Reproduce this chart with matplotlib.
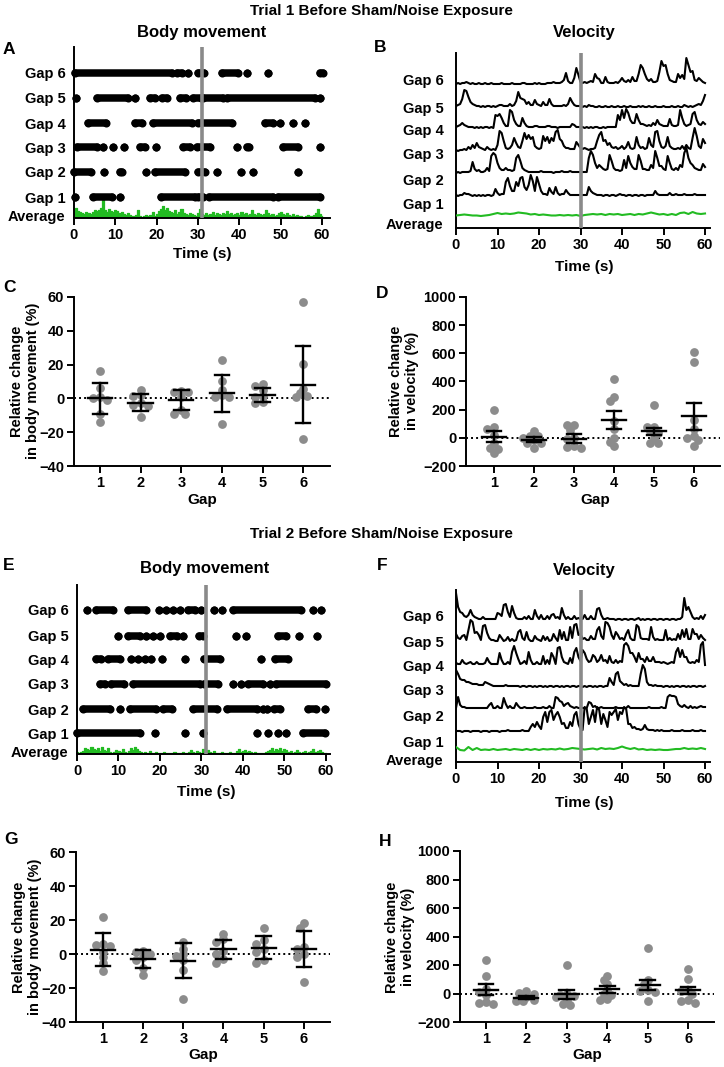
import numpy as np
import matplotlib
matplotlib.use('Agg')
import matplotlib.pyplot as plt

plt.rcParams['font.family'] = ['Liberation Sans', 'DejaVu Sans']
plt.rcParams['font.weight'] = 'bold'
plt.rcParams['axes.labelweight'] = 'bold'

# ------------------------------------------------------------------ DATA
ROW_LABELS = ['Average', 'Gap 1', 'Gap 2', 'Gap 3', 'Gap 4', 'Gap 5', 'Gap 6']
TIME_TICKS = [0, 10, 20, 30, 40, 50, 60]
GAPS = [1, 2, 3, 4, 5, 6]
STIM_RASTER = 31.0   # grey marker line, body-movement panels (s)
STIM_VEL = 30.0      # grey marker line, velocity panels (s)
SAMPLE_DT = 0.5      # sampling step of traces (s)
AVG_DT = 1.0         # sampling step of the green velocity average (s)

# Trial 1 body movement: movement episodes [start, end] or [time] (s), gap 1..6
A_gap1 = [[0.2], [4.5, 9.1], [11.1], [21.0, 29.3], [30.0, 31.3], [32.7, 48.2], [49.4, 59.5]]
A_gap2 = [[0.0, 4.0], [7.3], [11.1, 11.5], [17.4], [19.6, 26.8], [30.1, 31.7], [34.5], [40.3], [43.4], [54.1]]
A_gap3 = [[0.8, 5.5], [7.1], [9.5], [12.1], [16.0, 17.2], [19.8], [26.3, 28.0], [29.8, 32.9], [39.5],
          [41.8, 42.4], [50.5, 54.2], [59.5]]
A_gap4 = [[3.5, 7.7], [14.7, 16.4], [19.0, 28.5], [30.1, 38.1], [46.2, 48.2], [49.8], [53.0], [55.9]]
A_gap5 = [[0.5], [5.5, 13.1], [14.7], [18.4, 19.6], [21.2, 22.4], [25.6, 27.2], [28.7, 30.6], [31.3, 36.1],
          [36.9, 58.3], [59.5]]
A_gap6 = [[0.2, 23.6], [24.8, 26.0], [27.6], [29.9, 31.4], [35.7, 39.7], [41.8], [47.0], [59.5, 60.2]]
A_avg = [8, 10, 7, 6, 5, 4, 6, 5, 4, 6, 8, 7, 8, 10, 18, 8, 6, 9, 7, 6,
         8, 7, 5, 6, 4, 3, 5, 3, 2, 2, 3, 8, 2, 1, 2, 3, 2, 3, 6, 2,
         4, 7, 9, 12, 8, 10, 7, 6, 5, 8, 4, 6, 9, 5, 4, 3, 5, 4, 3, 2,
         5, 9, 4, 3, 5, 3, 4, 6, 3, 5, 4, 3, 5, 4, 7, 4, 5, 3, 4, 5,
         3, 6, 4, 5, 3, 4, 8, 4, 3, 5, 4, 3, 4, 8, 5, 3, 4, 2, 3, 5,
         6, 4, 3, 5, 3, 2, 4, 2, 3, 2, 2, 1, 2, 3, 2, 2, 3, 5, 9, 4, 2]

# Trial 1 velocity traces (0.5 s steps)
B_gap1 = [1, 0, 1, 1, 3, 2, 2, 1, 0, 1, 0, 1, 0, 1, 0, 1, 1, 0, 1, 7,
          3, 1, 2, 2, 14, 18, 10, 5, 5, 14, 10, 18, 19, 9, 6, 11, 21, 15, 5, 19,
          12, 5, 2, 2, 1, 8, 4, 2, 9, 3, 1, 2, 2, 6, 3, 1, 1, 1, 1, 1,
          1, 1, 1, 1, 9, 5, 3, 2, 1, 1, 1, 0, 1, 1, 0, 1, 1, 0, 1, 2,
          1, 1, 0, 1, 1, 0, 1, 1, 0, 1, 1, 0, 1, 1, 1, 1, 5, 2, 1, 1,
          1, 1, 1, 3, 1, 1, 2, 1, 1, 1, 2, 1, 1, 1, 1, 2, 1, 1, 1, 1, 1]
B_gap2 = [0, 1, 0, 1, 1, 1, 1, 2, 11, 4, 2, 3, 1, 1, 2, 5, 2, 17, 20, 18,
          10, 5, 3, 3, 5, 3, 3, 2, 3, 15, 18, 12, 5, 3, 2, 1, 1, 1, 1, 1,
          1, 2, 1, 1, 1, 1, 1, 0, 1, 1, 1, 2, 1, 1, 1, 2, 1, 1, 1, 1,
          1, 1, 1, 1, 15, 22, 18, 10, 5, 8, 6, 4, 3, 4, 18, 12, 5, 3, 3, 2,
          3, 13, 5, 17, 10, 6, 4, 4, 18, 12, 4, 4, 3, 3, 8, 5, 22, 15, 7, 7,
          4, 3, 17, 10, 4, 3, 5, 3, 8, 6, 20, 25, 15, 10, 8, 5, 4, 3, 3, 9, 6]
B_gap3 = [1, 0, 1, 1, 2, 1, 4, 2, 6, 3, 8, 4, 3, 2, 1, 4, 2, 1, 2, 1,
          6, 20, 18, 10, 3, 2, 3, 6, 13, 8, 4, 3, 10, 18, 12, 16, 12, 14, 5, 3,
          2, 3, 15, 10, 14, 8, 13, 10, 19, 21, 12, 10, 5, 3, 3, 2, 2, 2, 9, 6,
          3, 2, 3, 2, 1, 2, 2, 3, 10, 16, 19, 10, 11, 6, 8, 4, 3, 4, 2, 3,
          5, 2, 4, 9, 3, 2, 3, 14, 6, 3, 4, 2, 3, 13, 6, 4, 19, 20, 10, 4,
          3, 5, 14, 5, 3, 2, 2, 3, 2, 5, 2, 6, 3, 2, 13, 23, 15, 5, 3, 12, 8]
B_gap4 = [1, 2, 3, 5, 3, 2, 1, 1, 1, 0, 1, 0, 1, 0, 1, 1, 0, 1, 0, 13,
          12, 14, 10, 5, 2, 2, 18, 16, 8, 4, 2, 2, 10, 5, 2, 1, 1, 1, 2, 2,
          1, 1, 1, 1, 2, 2, 1, 1, 1, 0, 1, 1, 1, 1, 1, 1, 4, 3, 1, 1,
          1, 1, 0, 1, 0, 1, 0, 1, 1, 0, 0, 1, 0, 1, 1, 1, 1, 1, 13, 8,
          18, 10, 19, 15, 8, 5, 5, 14, 8, 4, 4, 3, 2, 3, 2, 5, 3, 8, 4, 3,
          2, 2, 2, 9, 3, 2, 2, 3, 18, 10, 4, 2, 3, 4, 14, 16, 8, 4, 3, 6, 4]
B_gap5 = [1, 2, 3, 8, 17, 16, 10, 5, 3, 2, 1, 1, 0, 1, 0, 1, 1, 0, 1, 0,
          1, 2, 2, 1, 1, 1, 3, 1, 2, 6, 15, 9, 8, 7, 3, 5, 2, 2, 7, 3,
          2, 1, 5, 2, 2, 8, 3, 1, 1, 1, 1, 1, 2, 1, 3, 9, 5, 2, 1, 1,
          1, 0, 1, 0, 2, 1, 1, 0, 0, 1, 0, 0, 1, 0, 0, 1, 0, 0, 1, 0,
          0, 1, 0, 0, 1, 0, 0, 0, 1, 0, 1, 0, 0, 1, 0, 0, 1, 0, 0, 0,
          1, 0, 0, 0, 1, 0, 0, 1, 0, 0, 2, 1, 0, 1, 0, 1, 2, 3, 2, 6, 12]
B_gap6 = [0, 1, 0, 1, 1, 2, 1, 0, 1, 0, 0, 1, 0, 0, 1, 0, 0, 1, 0, 0,
          0, 0, 1, 0, 0, 0, 0, 1, 0, 0, 0, 0, 1, 1, 0, 0, 0, 0, 1, 0,
          1, 0, 0, 0, 1, 1, 1, 2, 1, 1, 1, 2, 4, 11, 3, 1, 1, 6, 16, 9,
          2, 1, 2, 1, 2, 3, 2, 10, 6, 5, 1, 1, 7, 2, 1, 1, 1, 2, 1, 3,
          6, 3, 2, 4, 2, 7, 3, 3, 10, 19, 16, 10, 5, 3, 5, 2, 2, 3, 12, 23,
          18, 19, 10, 4, 3, 2, 2, 10, 6, 9, 5, 26, 19, 12, 13, 4, 3, 6, 4, 2, 1]
B_avg = [1.5, 2, 2.5, 2, 1.5, 1.5, 1, 1.5, 2, 3, 4, 3, 3.5, 3, 3.5, 4.5, 4, 3.5, 2.5, 3,
         2, 2.5, 2, 1.5, 1.5, 2, 1.5, 2, 1.5, 2, 1, 2, 2.5, 3, 2.5, 3, 2, 3, 2.5, 3,
         2, 2.5, 3, 2, 3, 2.5, 3.5, 4.5, 3.5, 2.5, 3, 2, 3, 2, 4, 4.5, 3, 5, 3.5, 3, 3.5]

# Trial 1 relative change per gap (individual animals, mean, error)
C_pts = [[16, 6, 1, 0, -1, -9, -14],
         [2, 1.5, 5, -4, -4.5, -3, -11],
         [4, 4, 4.5, 1, -7, -9.5, -9],
         [23, 10.5, 5, 2, 1, 1, -15],
         [7.5, 8.7, 5, 1.5, 1, -3, -2],
         [57, 20.5, 3.3, 5.8, 1.5, 1, -24]]
C_mean = [0, -2.5, -1, 3, 2, 8.2]
C_err = [9, 5, 6, 11, 4.4, 23]

D_pts = [[200, 60, 75, 20, -35, -80, -70, -105],
         [15, 50, 10, 0, -35, -70, -35, -15],
         [90, 90, 55, 0, -5, -55, -70, -65],
         [420, 290, 260, 120, 60, 0, -30, -60],
         [235, 80, 80, 45, 35, 0, -35, -40],
         [610, 535, 130, 60, 10, 0, -15, -60]]
D_mean = [8, -15, -5, 127, 45, 153]
D_err = [38, 18, 30, 63, 24, 94]

# Trial 2 body movement episodes
E_gap1 = [[0.0, 15.2], [18.8], [26.0], [30.4], [43.4], [46.0], [48.4], [50.5], [54.5, 59.8]]
E_gap2 = [[1.5, 8.0], [10.4], [12.8, 19.1], [20.7, 22.8], [28.0, 33.7], [36.1, 43.5], [44.9], [45.9],
          [47.6, 49.0], [55.7, 57.7], [59.7]]
E_gap3 = [[5.5, 6.7], [8.3, 11.3], [13.5, 29.6], [30.6, 34.0], [37.6], [39.6], [41.2, 44.9], [46.5],
          [48.1, 60.0]]
E_gap4 = [[4.7, 5.9], [7.5, 10.3], [13.1], [14.7], [16.3], [17.9], [20.5], [26.0], [30.6, 34.4], [44.3],
          [47.7, 50.9]]
E_gap5 = [[9.9], [12.3, 15.1], [16.7], [18.3], [19.9], [22.4, 24.0], [25.6], [29.4, 30.4], [38.4], [40.8],
          [48.5, 50.5], [53.5], [57.9]]
E_gap6 = [[2.3], [4.7, 8.7], [12.3, 16.7], [19.8], [21.5], [23.2], [24.8], [26.7, 28.4], [30.0], [33.0],
          [35.0], [37.6, 53.9], [56.9], [58.9]]
E_avg = [2, 1, 2, 3, 6, 5, 4, 7, 5, 4, 6, 3, 7, 4, 3, 6, 2, 1, 2, 4,
         3, 2, 5, 2, 1, 3, 6, 4, 7, 5, 3, 2, 1, 2, 1, 3, 1, 1, 2, 1,
         1, 1, 2, 1, 1, 1, 1, 2, 1, 1, 1, 2, 1, 1, 2, 4, 2, 1, 3, 2,
         1, 5, 2, 4, 2, 1, 3, 1, 1, 1, 2, 1, 1, 1, 2, 1, 1, 3, 5, 2,
         3, 4, 2, 3, 2, 1, 2, 1, 1, 1, 1, 2, 3, 4, 6, 3, 5, 4, 6, 3,
         5, 4, 2, 3, 1, 2, 4, 2, 1, 2, 3, 1, 2, 3, 5, 2, 3, 4, 2, 1, 1]

# Trial 2 velocity traces (0.5 s steps)
F_gap1 = [1, 1, 1, 0, 1, 1, 1, 0, 1, 1, 1, 1, 0, 1, 1, 1, 0, 1, 1, 1,
          1, 0, 1, 1, 1, 2, 1, 1, 1, 1, 1, 1, 2, 1, 1, 1, 5, 8, 5, 10,
          6, 3, 15, 20, 10, 20, 22, 12, 17, 20, 15, 8, 9, 4, 4, 10, 6, 17, 20, 8,
          3, 2, 25, 23, 8, 15, 22, 10, 25, 22, 8, 18, 12, 5, 20, 17, 20, 23, 12, 20,
          18, 25, 23, 8, 8, 4, 5, 3, 3, 2, 3, 7, 3, 2, 2, 2, 1, 2, 1, 2,
          1, 1, 1, 1, 2, 1, 1, 1, 1, 2, 1, 1, 1, 1, 2, 1, 1, 1, 2, 1, 1]
F_gap2 = [1, 12, 4, 2, 2, 1, 1, 1, 1, 1, 1, 1, 1, 1, 1, 1, 4, 6, 1, 1,
          3, 1, 1, 11, 5, 1, 3, 1, 1, 6, 3, 1, 1, 2, 1, 1, 1, 1, 2, 1,
          1, 1, 2, 1, 1, 3, 1, 1, 12, 11, 8, 7, 3, 5, 6, 3, 2, 1, 2, 1,
          1, 1, 1, 1, 7, 6, 2, 3, 1, 1, 2, 1, 1, 1, 1, 1, 1, 2, 1, 1,
          1, 1, 1, 3, 1, 1, 1, 1, 1, 1, 1, 1, 1, 2, 1, 1, 1, 1, 1, 2,
          1, 1, 12, 14, 13, 13, 12, 5, 3, 2, 4, 2, 1, 3, 1, 2, 1, 2, 3, 2, 2]
F_gap3 = [17, 13, 8, 7, 7, 5, 5, 4, 3, 3, 3, 2, 2, 2, 5, 4, 3, 2, 1, 1,
          1, 1, 1, 1, 2, 1, 1, 1, 1, 1, 1, 0, 1, 1, 0, 1, 1, 0, 1, 0,
          1, 1, 0, 1, 0, 1, 1, 0, 1, 1, 0, 1, 0, 1, 1, 0, 1, 1, 0, 1,
          1, 0, 1, 0, 1, 1, 0, 1, 0, 1, 1, 0, 1, 1, 9, 5, 2, 13, 15, 6,
          4, 2, 3, 1, 2, 1, 1, 1, 1, 13, 22, 18, 5, 2, 2, 1, 2, 1, 1, 1,
          0, 1, 1, 0, 1, 0, 1, 1, 0, 1, 1, 0, 1, 0, 1, 1, 0, 1, 1, 0, 1]
F_gap4 = [2, 1, 1, 5, 2, 1, 2, 3, 1, 1, 3, 1, 1, 1, 2, 7, 3, 1, 1, 1,
          1, 12, 5, 1, 1, 3, 1, 13, 19, 12, 6, 1, 2, 4, 1, 13, 5, 1, 1, 3,
          1, 1, 9, 1, 5, 1, 12, 8, 1, 17, 18, 8, 3, 2, 1, 7, 2, 13, 17, 8,
          4, 15, 12, 6, 3, 4, 10, 8, 3, 5, 10, 4, 5, 2, 9, 3, 2, 5, 2, 4,
          3, 20, 22, 19, 12, 12, 8, 3, 12, 6, 6, 3, 8, 4, 4, 8, 3, 3, 3, 2,
          3, 2, 1, 2, 3, 2, 13, 17, 8, 15, 8, 8, 3, 2, 3, 2, 5, 3, 20, 23, 0]
F_gap5 = [9, 5, 4, 7, 8, 3, 13, 23, 21, 10, 11, 8, 3, 17, 18, 10, 5, 3, 3, 2,
          2, 8, 5, 2, 3, 6, 2, 4, 2, 3, 11, 13, 5, 3, 11, 4, 2, 2, 7, 4,
          3, 2, 7, 3, 6, 2, 3, 9, 5, 2, 13, 4, 11, 3, 3, 16, 5, 18, 19, 8,
          9, 4, 5, 3, 3, 7, 4, 4, 13, 16, 7, 4, 21, 20, 16, 8, 4, 11, 8, 4,
          5, 3, 9, 13, 5, 3, 3, 18, 16, 5, 4, 4, 4, 3, 16, 6, 3, 4, 3, 3,
          3, 13, 3, 5, 3, 4, 3, 9, 4, 13, 6, 14, 4, 4, 14, 9, 9, 4, 8, 5, 3]
F_gap6 = [27, 13, 8, 7, 4, 3, 5, 10, 5, 3, 2, 1, 1, 3, 1, 1, 1, 1, 1, 1,
          7, 6, 4, 15, 16, 8, 3, 14, 7, 2, 1, 1, 1, 3, 1, 4, 1, 1, 10, 4,
          1, 5, 1, 1, 4, 1, 5, 6, 2, 3, 1, 12, 5, 1, 3, 1, 1, 4, 1, 2,
          1, 1, 5, 1, 1, 4, 1, 1, 11, 12, 5, 1, 1, 2, 1, 1, 1, 0, 1, 1,
          0, 1, 1, 0, 1, 1, 0, 1, 2, 0, 1, 0, 1, 1, 0, 1, 1, 0, 1, 1,
          0, 1, 1, 0, 1, 1, 0, 1, 1, 3, 22, 10, 13, 8, 3, 1, 2, 1, 4, 1, 5]
F_avg = [5, 2, 1.5, 5, 2, 4, 2, 2.5, 2, 3, 2, 2.5, 3, 2, 3, 2.5, 2, 3, 2, 3,
         2, 3, 2.5, 3, 2.5, 3.5, 2.5, 3, 4, 3.5, 3, 2.5, 3, 3.5, 2.5, 4, 3, 3.5, 3, 4,
         5.5, 4, 3, 4, 2.5, 3, 2, 2.5, 2, 2.5, 2, 2, 2.5, 3, 3, 4, 3, 3.5, 3, 4, 3]

# Trial 2 relative change per gap
G_pts = [[22, 5.5, 6, 4.5, 1, -2, -5.5, -10],
         [1.5, 1, 0, -2, -3.5, -8, -12.5],
         [7, 3, 0, -1, -3.5, -9.5, -26.5],
         [12, 9, 7, 2, 0, -3, -5],
         [15.5, 8, 6, 3, 1, -3.5, -5.5],
         [18, 15.5, 4, 3, 0, -2, -16.5]]
G_mean = [2.4, -3, -4, 2.7, 3.8, 2.8]
G_err = [9.7, 5.3, 10.2, 5.7, 6.7, 10.7]

H_pts = [[235, 120, 30, 10, -10, -60, -70, -75],
         [15, 5, 0, -28, -35, -47, -52, -50],
         [200, 0, -10, -25, -45, -75, -80, -20],
         [125, 95, 70, 25, 0, -10, -45, -40],
         [320, 95, 65, 25, 20, 10, -50],
         [170, 100, 25, 20, 0, -45, -50, -65]]
H_mean = [28, -30, -7, 30, 60, 22]
H_err = [36, 10, 32, 24, 38, 26]

# ------------------------------------------------------------------ STYLE / LAYOUT
W, H = 724, 1067
GREEN = '#22bb22'
GREY = '#8a8a8a'
DOT = '#8c8c8c'
TICK_FS = 10.5
LAB_FS = 11

fig = plt.figure(figsize=(W / 100, H / 100), dpi=100)


def px_axes(l, t, r, b):
    return fig.add_axes([l / W, 1 - b / H, (r - l) / W, (b - t) / H])


def ftext(x, y, s, size=11, **kw):
    fig.text(x / W, 1 - y / H, s, fontsize=size, fontweight='bold', ha='center', va='center', **kw)


def base_style(ax):
    for s in ['top', 'right']:
        ax.spines[s].set_visible(False)
    for s in ['left', 'bottom']:
        ax.spines[s].set_linewidth(1.4)
    ax.tick_params(width=1.4, length=5, labelsize=TICK_FS, pad=2)


t_half = np.arange(121) * SAMPLE_DT
t_sec = np.arange(61) * AVG_DT


def raster(ax, gaps, avg, rows, labs, avg_base, xmax, ymax):
    base_style(ax)
    ax.set_xlim(0, xmax)
    ax.set_ylim(0, ymax)
    for runs, y in zip(gaps, rows):
        for r in runs:
            ax.plot([r[0], r[-1]], [y, y], color='black', lw=5.4, marker='o', ms=5.8, mew=0,
                    solid_capstyle='round', clip_on=False, zorder=3)
    avg_top = avg_base + np.array(avg)
    ax.fill_between(t_half, avg_base, avg_top, step='mid', color=GREEN, lw=0, zorder=2)
    ax.step(t_half, avg_top, where='mid', color=GREEN, lw=0.9, zorder=2)
    ax.axvline(STIM_RASTER, color=GREY, lw=2.6, zorder=4)
    ax.set_yticks(labs)
    ax.set_yticklabels(ROW_LABELS)
    ax.tick_params(axis='y', length=0, pad=6)
    ax.set_xticks(TIME_TICKS)


def velocity(ax, traces, avg, bases, avg_base, labs, xmax, ymax):
    base_style(ax)
    ax.set_xlim(0, xmax)
    ax.set_ylim(0, ymax)
    for tr, b in zip(traces, bases):
        ax.plot(t_half, b + np.array(tr), color='black', lw=1.5, zorder=3)
    ax.plot(t_sec, avg_base + np.array(avg), color=GREEN, lw=1.5, zorder=3)
    ax.axvline(STIM_VEL, color=GREY, lw=2.6, zorder=4)
    ax.set_yticks(labs)
    ax.set_yticklabels(ROW_LABELS)
    ax.tick_params(axis='y', length=0, pad=9)
    ax.set_xticks(TIME_TICKS)


def swarm(vals, ppx, ppy, d=8.0, max_steps=3):
    """Deterministic beeswarm offsets (in x data units), limited spread."""
    placed = []
    offs = np.zeros(len(vals))
    cands = [0.0]
    for j in range(1, max_steps + 1):
        cands += [-j * d * 0.45, j * d * 0.45]
    for i in np.argsort(vals)[::-1]:
        y = vals[i] * ppy
        best, best_score = cands[0], -1.0
        for c in cands:
            dmin = min([np.hypot(c - px, y - py) for px, py in placed], default=1e9)
            if dmin >= 0.62 * d:
                best = c
                break
            if dmin > best_score:
                best, best_score = c, dmin
        placed.append((best, y))
        offs[i] = best / ppx
    return offs


def dotplot(ax, pts, means, errs, xlim, ylim, yticks, box):
    base_style(ax)
    ax.set_xlim(*xlim)
    ax.set_ylim(*ylim)
    l, t, r, b = box
    ppx = (r - l) / (xlim[1] - xlim[0])
    ppy = (b - t) / (ylim[1] - ylim[0])
    ax.axhline(0, color='black', ls=(0, (1, 1.6)), lw=1.4, zorder=1)
    for g, vals in zip(GAPS, pts):
        vals = np.array(vals, dtype=float)
        offs = swarm(vals, ppx, ppy)
        ax.scatter(g + offs, vals, s=40, color=DOT, lw=0, zorder=2, clip_on=False)
    for g, m, e in zip(GAPS, means, errs):
        ax.plot([g - 0.3, g + 0.3], [m, m], color='black', lw=1.7, zorder=3)
        ax.plot([g, g], [m - e, m + e], color='black', lw=1.7, zorder=3)
        ax.plot([g - 0.18, g + 0.18], [m + e, m + e], color='black', lw=1.7, zorder=3)
        ax.plot([g - 0.18, g + 0.18], [m - e, m - e], color='black', lw=1.7, zorder=3)
    ax.set_xticks(GAPS)
    ax.set_yticks(yticks)


# ---- Panel A
axA = px_axes(74, 47, 330, 218)
raster(axA, [A_gap1, A_gap2, A_gap3, A_gap4, A_gap5, A_gap6], A_avg,
       rows=[21, 46, 71, 95, 120, 145], labs=[2, 21, 46, 71, 95, 120, 145],
       avg_base=0.5, xmax=61.9, ymax=171)
# ---- Panel B
axB = px_axes(456, 53, 710, 228)
velocity(axB, [B_gap1, B_gap2, B_gap3, B_gap4, B_gap5, B_gap6], B_avg,
         bases=[32, 55, 77, 100, 121, 144], avg_base=11,
         labs=[5, 24, 49, 74, 99, 121, 149], xmax=61.2, ymax=175)
# ---- Panel C
boxC = (74, 297, 330, 466)
axC = px_axes(*boxC)
dotplot(axC, C_pts, C_mean, C_err, (0.36, 6.66), (-40, 60), [-40, -20, 0, 20, 40, 60], boxC)
# ---- Panel D
boxD = (466, 297, 720, 466)
axD = px_axes(*boxD)
dotplot(axD, D_pts, D_mean, D_err, (0.3, 6.65), (-200, 1000), [-200, 0, 200, 400, 600, 800, 1000], boxD)
# ---- Panel E
axE = px_axes(77, 585, 330, 754)
raster(axE, [E_gap1, E_gap2, E_gap3, E_gap4, E_gap5, E_gap6], E_avg,
       rows=[21, 45, 70, 95, 118, 144], labs=[2, 21, 45, 70, 95, 118, 144],
       avg_base=0.5, xmax=61.0, ymax=169)
# ---- Panel F
axF = px_axes(456, 590, 710, 762)
velocity(axF, [F_gap1, F_gap2, F_gap3, F_gap4, F_gap5, F_gap6], F_avg,
         bases=[30, 53, 75, 97, 119, 142], avg_base=10,
         labs=[3, 21, 47, 72, 97, 120, 146], xmax=61.2, ymax=172)
# ---- Panel G
boxG = (76, 852, 330, 1022)
axG = px_axes(*boxG)
dotplot(axG, G_pts, G_mean, G_err, (0.33, 6.65), (-40, 60), [-40, -20, 0, 20, 40, 60], boxG)
# ---- Panel H
boxH = (460, 851, 714, 1022)
axH = px_axes(*boxH)
dotplot(axH, H_pts, H_mean, H_err, (0.36, 6.64), (-200, 1000), [-200, 0, 200, 400, 600, 800, 1000], boxH)

# ---- Texts
ftext(381, 11, 'Trial 1 Before Sham/Noise Exposure', 11)
ftext(381, 534, 'Trial 2 Before Sham/Noise Exposure', 11)
ftext(202, 33, 'Body movement', 12)
ftext(584, 33, 'Velocity', 12)
ftext(205, 569, 'Body movement', 12)
ftext(584, 570, 'Velocity', 12)
for lab, x, y in [('A', 9, 49), ('B', 380, 47), ('C', 9, 288), ('D', 382, 293),
                  ('E', 9, 565), ('F', 382, 565), ('G', 11, 840), ('H', 385, 841)]:
    ftext(x, y, lab, 12.5)
ftext(202, 254, 'Time (s)', LAB_FS)
ftext(584, 267, 'Time (s)', LAB_FS)
ftext(206, 792, 'Time (s)', LAB_FS)
ftext(584, 803, 'Time (s)', LAB_FS)
ftext(202, 500, 'Gap', LAB_FS)
ftext(595, 500, 'Gap', LAB_FS)
ftext(203, 1055, 'Gap', LAB_FS)
ftext(587, 1055, 'Gap', LAB_FS)
ftext(25, 381, 'Relative change\nin body movement (%)', 10.5, rotation=90, linespacing=1.15)
ftext(404, 381, 'Relative change\nin velocity (%)', 10.5, rotation=90, linespacing=1.15)
ftext(27, 937, 'Relative change\nin body movement (%)', 10.5, rotation=90, linespacing=1.15)
ftext(400, 937, 'Relative change\nin velocity (%)', 10.5, rotation=90, linespacing=1.15)

fig.savefig('out.png', dpi=100)
